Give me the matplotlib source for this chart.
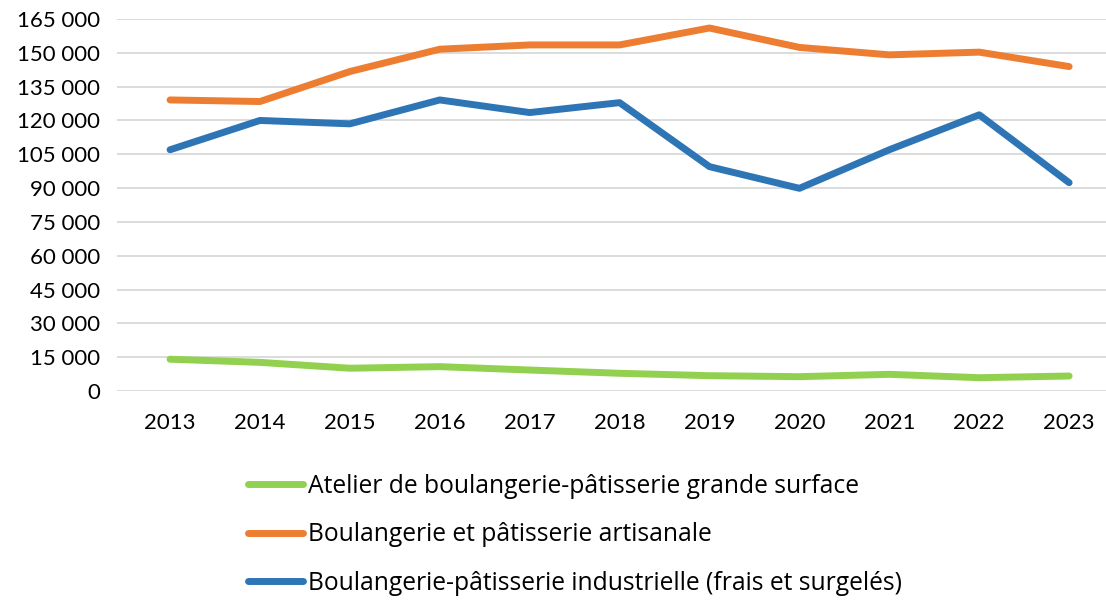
import numpy as np
import matplotlib.pyplot as plt
from matplotlib.ticker import FuncFormatter

years = ['2013', '2014', '2015', '2016', '2017', '2018', '2019', '2020', '2021', '2022', '2023']
grande_surface = [14100, 12700, 10100, 10800, 9300, 7850, 6800, 6350, 7400, 5900, 6650]
artisanale = [129100, 128400, 141700, 151600, 153500, 153500, 161000, 152400, 149100, 150300, 143900]
industrielle = [107000, 120000, 118500, 129100, 123500, 127900, 99500, 89900, 107000, 122500, 92400]

labels = ['Atelier de boulangerie-pâtisserie grande surface',
          'Boulangerie et pâtisserie artisanale',
          'Boulangerie-pâtisserie industrielle (frais et surgelés)']
colors = ['#92D050', '#ED7D31', '#2E75B6']

plt.rcParams.update({'font.family': 'Lato', 'font.size': 16})

fig = plt.figure(figsize=(11.06, 6.0), dpi=100)
ax = fig.add_axes([117 / 1106, 1 - 391 / 600, 989 / 1106, 372 / 600])

x = np.arange(len(years))
for vals, lab, c in zip([grande_surface, artisanale, industrielle], labels, colors):
    ax.plot(x, vals, color=c, linewidth=5, label=lab, solid_capstyle='round')

ax.set_ylim(0, 165000)
ax.set_yticks(np.arange(0, 165001, 15000))
ax.yaxis.set_major_formatter(FuncFormatter(lambda v, p: f'{int(v):,}'.replace(',', ' ')))
ax.set_xlim(-0.59, 10.41)
ax.set_xticks(x)
ax.set_xticklabels(years)
ax.grid(axis='y', color='#D9D9D9', linewidth=1.3)
ax.set_axisbelow(True)
for s in ['top', 'bottom', 'left', 'right']:
    ax.spines[s].set_visible(False)
ax.tick_params(axis='both', length=0)
ax.tick_params(axis='y', pad=12)
ax.tick_params(axis='x', pad=16)

fig.legend(loc='upper left', bbox_to_anchor=(238 / 1106, 1 - 464 / 600), frameon=False,
           prop={'family': 'Open Sans', 'size': 17.7},
           handlelength=2.25, handletextpad=0.2, labelspacing=0.95, borderaxespad=0)

plt.savefig('out.png', dpi=100)
